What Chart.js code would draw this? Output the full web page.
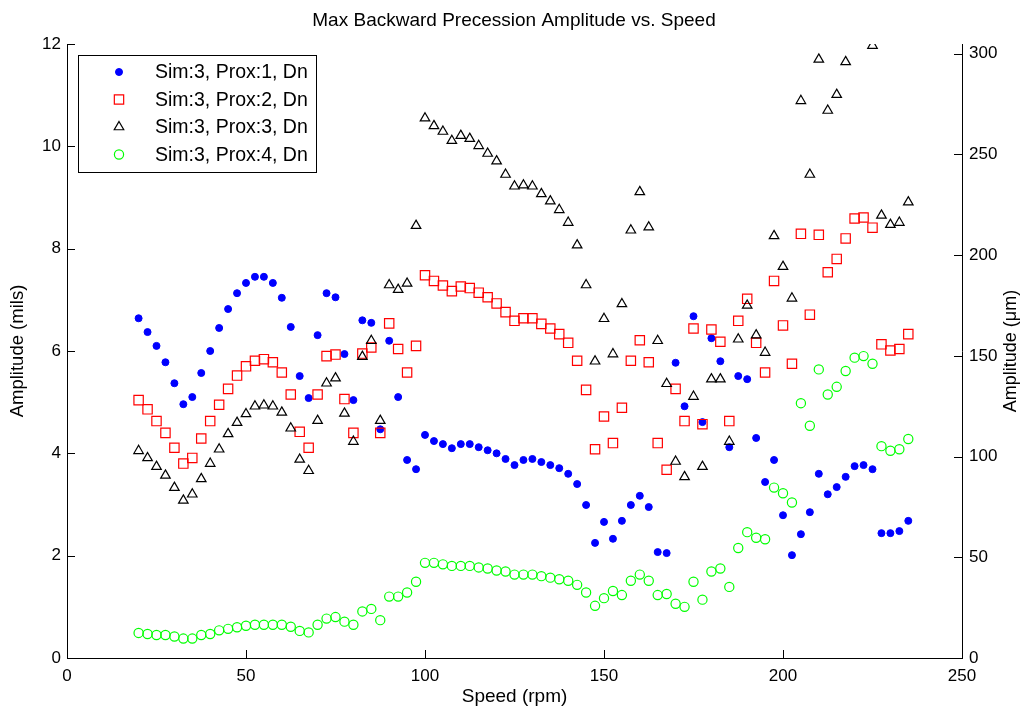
<!DOCTYPE html>
<html>
<head>
<meta charset="utf-8">
<title>Max Backward Precession Amplitude vs. Speed</title>
<script src="https://cdn.jsdelivr.net/npm/chart.js@4.4.1/dist/chart.umd.min.js"></script>
<style>
  html, body { margin: 0; padding: 0; background: #fff; }
  #wrap { width: 1028px; height: 711px; position: relative; }
</style>
</head>
<body>
<div id="wrap"><canvas id="precession_canvas"></canvas></div>
<script>
// speed (rpm) for every sample
var speeds = [
    20, 22.5, 25, 27.5, 30, 32.5, 35, 37.5, 40, 42.5,
    45, 47.5, 50, 52.5, 55, 57.5, 60, 62.5, 65, 67.5,
    70, 72.5, 75, 77.5, 80, 82.5, 85, 87.5, 90, 92.5,
    95, 97.5, 100, 102.5, 105, 107.5, 110, 112.5, 115, 117.5,
    120, 122.5, 125, 127.5, 130, 132.5, 135, 137.5, 140, 142.5,
    145, 147.5, 150, 152.5, 155, 157.5, 160, 162.5, 165, 167.5,
    170, 172.5, 175, 177.5, 180, 182.5, 185, 187.5, 190, 192.5,
    195, 197.5, 200, 202.5, 205, 207.5, 210, 212.5, 215, 217.5,
    220, 222.5, 225, 227.5, 230, 232.5, 235
];

// amplitude (mils) per proximity probe
var prox1 = [
    6.64, 6.37, 6.10, 5.78, 5.37, 4.96, 5.10, 5.57, 6.00, 6.45,
    6.82, 7.13, 7.33, 7.45, 7.45, 7.33, 7.04, 6.47, 5.51, 5.08,
    6.31, 7.13, 7.05, 5.94, 5.04, 6.60, 6.55, 4.47, 6.20, 5.10,
    3.87, 3.69, 4.36, 4.24, 4.18, 4.10, 4.18, 4.18, 4.12, 4.06,
    4.00, 3.89, 3.77, 3.87, 3.89, 3.83, 3.77, 3.71, 3.60, 3.40,
    2.99, 2.25, 2.66, 2.33, 2.68, 2.99, 3.17, 2.95, 2.07, 2.05,
    5.77, 4.92, 6.68, 4.61, 6.25, 5.80, 4.12, 5.51, 5.45, 4.30,
    3.44, 3.87, 2.79, 2.01, 2.42, 2.85, 3.60, 3.20, 3.34, 3.54,
    3.75, 3.77, 3.69, 2.44, 2.44, 2.48, 2.68
];
var prox2 = [
    5.04, 4.86, 4.63, 4.40, 4.11, 3.80, 3.91, 4.29, 4.63, 4.95,
    5.26, 5.52, 5.70, 5.81, 5.84, 5.78, 5.58, 5.15, 4.42, 4.11,
    5.15, 5.90, 5.93, 5.06, 4.40, 5.95, 6.07, 4.40, 6.54, 6.04,
    5.58, 6.10, 7.48, 7.37, 7.28, 7.17, 7.26, 7.23, 7.14, 7.05,
    6.93, 6.76, 6.59, 6.64, 6.64, 6.53, 6.44, 6.33, 6.16, 5.81,
    5.24, 4.08, 4.72, 4.20, 4.89, 5.81, 6.21, 5.78, 4.20, 3.68,
    5.26, 4.63, 6.44, 4.57, 6.42, 6.18, 4.63, 6.59, 7.02, 6.16,
    5.58, 7.37, 6.50, 5.75, 8.29, 6.71, 8.27, 7.54, 7.80, 8.20,
    8.59, 8.61, 8.41, 6.13, 6.01, 6.04, 6.33
];
var prox3 = [
    4.05, 3.91, 3.74, 3.57, 3.33, 3.08, 3.20, 3.50, 3.80, 4.08,
    4.38, 4.60, 4.77, 4.92, 4.94, 4.92, 4.80, 4.49, 3.88, 3.66,
    4.64, 5.37, 5.47, 4.78, 4.23, 5.89, 6.20, 4.64, 7.29, 7.20,
    7.32, 8.45, 10.55, 10.40, 10.29, 10.11, 10.21, 10.15, 10.01, 9.86,
    9.71, 9.45, 9.22, 9.24, 9.22, 9.07, 8.93, 8.76, 8.51, 8.07,
    7.29, 5.80, 6.63, 5.94, 6.92, 8.36, 9.11, 8.42, 6.20, 5.36,
    3.84, 3.54, 5.11, 3.74, 5.45, 5.45, 4.23, 6.23, 6.89, 6.31,
    5.97, 8.25, 7.65, 7.03, 10.89, 9.45, 11.70, 10.70, 11.01, 11.65,
    null, null, 11.97, 8.65, 8.47, 8.51, 8.91
];
var prox4 = [
    0.49, 0.47, 0.45, 0.45, 0.42, 0.38, 0.38, 0.45, 0.47, 0.54,
    0.57, 0.60, 0.63, 0.65, 0.65, 0.65, 0.65, 0.61, 0.53, 0.50,
    0.65, 0.77, 0.80, 0.71, 0.65, 0.91, 0.96, 0.74, 1.20, 1.20,
    1.28, 1.49, 1.86, 1.86, 1.83, 1.80, 1.80, 1.80, 1.77, 1.75,
    1.71, 1.69, 1.63, 1.63, 1.63, 1.60, 1.57, 1.54, 1.51, 1.43,
    1.28, 1.02, 1.17, 1.31, 1.23, 1.51, 1.63, 1.51, 1.23, 1.25,
    1.06, 1.00, 1.49, 1.14, 1.69, 1.75, 1.39, 2.15, 2.46, 2.35,
    2.32, 3.33, 3.22, 3.04, 4.98, 4.54, 5.64, 5.15, 5.30, 5.61,
    5.87, 5.90, 5.75, 4.14, 4.05, 4.08, 4.28
];

var seriesLabels = ['Sim:3, Prox:1, Dn', 'Sim:3, Prox:2, Dn', 'Sim:3, Prox:3, Dn', 'Sim:3, Prox:4, Dn'];
var speedTicks = [0, 50, 100, 150, 200, 250];
var milTicks = [0, 2, 4, 6, 8, 10, 12];
var micronTicks = [0, 50, 100, 150, 200, 250, 300];

var FONT = "'Liberation Sans', Arial, Helvetica, sans-serif";
Chart.defaults.font.family = FONT;
Chart.defaults.color = '#000';

function toPoints(values) {
    var pts = [];
    for (var i = 0; i < speeds.length; i++) {
        if (values[i] !== null) {
            pts.push({x: speeds[i], y: values[i]});
        }
    }
    return pts;
}

function fixedTicks(list) {
    return function(scale) {
        scale.ticks = list.map(function(v) { return {value: v}; });
    };
}

// matlab style tick marks pointing into the axes
var innerTicks = {
    id: 'innerTicks',
    afterDraw: function(chart) {
        var ctx = chart.ctx;
        var area = chart.chartArea;
        var len = 8;
        ctx.save();
        ctx.strokeStyle = '#000';
        ctx.lineWidth = 1;
        ctx.beginPath();
        chart.scales.x.ticks.forEach(function(t) {
            var px = Math.round(chart.scales.x.getPixelForValue(t.value)) + 0.5;
            ctx.moveTo(px, area.bottom);
            ctx.lineTo(px, area.bottom - len);
        });
        chart.scales.y.ticks.forEach(function(t) {
            var py = Math.round(chart.scales.y.getPixelForValue(t.value)) + 0.5;
            ctx.moveTo(area.left, py);
            ctx.lineTo(area.left + len, py);
        });
        chart.scales.y2.ticks.forEach(function(t) {
            var py = Math.round(chart.scales.y2.getPixelForValue(t.value)) + 0.5;
            ctx.moveTo(area.right, py);
            ctx.lineTo(area.right - len, py);
        });
        ctx.stroke();
        ctx.restore();
    }
};

// right axis title, read bottom to top like the left one
var rightTitle = {
    id: 'rightTitle',
    afterDraw: function(chart) {
        var ctx = chart.ctx;
        var area = chart.chartArea;
        ctx.save();
        ctx.translate(1011, (area.top + area.bottom) / 2);
        ctx.rotate(-Math.PI / 2);
        ctx.font = '18px ' + FONT;
        ctx.fillStyle = '#000';
        ctx.textAlign = 'center';
        ctx.textBaseline = 'middle';
        ctx.fillText('Amplitude (\u03BCm)', 0, 0);
        ctx.restore();
    }
};

// legend box in the upper left corner of the axes
var boxLegend = {
    id: 'boxLegend',
    afterDraw: function(chart) {
        var ctx = chart.ctx;
        var bx = 78, by = 55, bw = 238, bh = 117;
        ctx.save();
        ctx.fillStyle = '#fff';
        ctx.fillRect(bx, by, bw, bh);
        ctx.strokeStyle = '#000';
        ctx.lineWidth = 1;
        ctx.strokeRect(bx + 0.5, by + 0.5, bw, bh);
        ctx.font = '19.5px ' + FONT;
        ctx.textBaseline = 'middle';
        ctx.textAlign = 'left';
        chart.data.datasets.forEach(function(ds, i) {
            var y = 72 + i * 27.5;
            var x = 119;
            ctx.beginPath();
            ctx.lineWidth = ds.borderWidth;
            ctx.strokeStyle = ds.borderColor;
            ctx.fillStyle = ds.backgroundColor;
            var r = ds.pointRadius;
            if (ds.pointStyle === 'rect') {
                var s = r * Math.SQRT1_2;
                ctx.rect(x - s, y - s, 2 * s, 2 * s);
            } else if (ds.pointStyle === 'triangle') {
                ctx.moveTo(x, y - r);
                ctx.lineTo(x + r * Math.sin(2 * Math.PI / 3), y + r / 2);
                ctx.lineTo(x - r * Math.sin(2 * Math.PI / 3), y + r / 2);
                ctx.closePath();
            } else {
                ctx.arc(x, y, r, 0, Math.PI * 2);
            }
            ctx.fill();
            ctx.stroke();
            ctx.fillStyle = '#000';
            ctx.fillText(ds.label, 155, y + 1);
        });
        ctx.restore();
    }
};

var ctx = document.getElementById('precession_canvas').getContext('2d');
window.precessionChart = new Chart(ctx, {
    type: 'scatter',
    data: {
        datasets: [
            {
                label: seriesLabels[0],
                data: toPoints(prox1),
                pointStyle: 'circle',
                pointRadius: 3.5,
                borderWidth: 1,
                borderColor: 'rgb(0,0,255)',
                backgroundColor: 'rgb(0,0,255)',
                order: 4
            },
            {
                label: seriesLabels[1],
                data: toPoints(prox2),
                pointStyle: 'rect',
                pointRadius: 6.6,
                borderWidth: 1.2,
                borderColor: 'rgb(255,0,0)',
                backgroundColor: 'rgba(0,0,0,0)',
                order: 3
            },
            {
                label: seriesLabels[2],
                data: toPoints(prox3),
                pointStyle: 'triangle',
                pointRadius: 5.5,
                borderWidth: 1.2,
                borderColor: 'rgb(0,0,0)',
                backgroundColor: 'rgba(0,0,0,0)',
                order: 2
            },
            {
                label: seriesLabels[3],
                data: toPoints(prox4),
                pointStyle: 'circle',
                pointRadius: 4.6,
                borderWidth: 1.2,
                borderColor: 'rgb(0,255,0)',
                backgroundColor: 'rgba(0,0,0,0)',
                order: 1
            }
        ]
    },
    options: {
        responsive: true,
        maintainAspectRatio: false,
        animation: false,
        devicePixelRatio: 1,
        layout: { padding: 0 },
        plugins: {
            legend: { display: false },
            tooltip: { enabled: false },
            title: {
                display: true,
                text: 'Max Backward Precession Amplitude vs. Speed',
                font: { size: 19, weight: 'normal' },
                color: '#000',
                padding: { top: 9, bottom: 12.2 }
            }
        },
        scales: {
            x: {
                type: 'linear',
                position: 'bottom',
                min: 0,
                max: 250,
                afterBuildTicks: fixedTicks(speedTicks),
                afterFit: function(scale) { scale.height = 53; },
                grid: { drawOnChartArea: false, drawTicks: false },
                border: { display: true, color: '#000', width: 1 },
                ticks: { font: { size: 17 }, padding: 8, maxRotation: 0 },
                title: { display: true, text: 'Speed (rpm)', font: { size: 19 }, padding: { top: 0, bottom: 3 } }
            },
            y: {
                type: 'linear',
                position: 'left',
                min: 0,
                max: 12,
                afterBuildTicks: fixedTicks(milTicks),
                afterFit: function(scale) { scale.width = 67; },
                grid: { drawOnChartArea: false, drawTicks: false },
                border: { display: true, color: '#000', width: 1 },
                ticks: { font: { size: 17 }, padding: 6 },
                title: { display: true, text: 'Amplitude (mils)', font: { size: 18.5 }, padding: { top: 7, bottom: 0 } }
            },
            y2: {
                type: 'linear',
                position: 'right',
                min: 0,
                max: 12 * 25.4,
                afterBuildTicks: fixedTicks(micronTicks),
                afterFit: function(scale) { scale.width = 66; },
                grid: { drawOnChartArea: false, drawTicks: false },
                border: { display: true, color: '#000', width: 1 },
                ticks: { font: { size: 17 }, padding: 7 },
                title: { display: false }
            }
        }
    },
    plugins: [innerTicks, rightTitle, boxLegend]
});
</script>
</body>
</html>
